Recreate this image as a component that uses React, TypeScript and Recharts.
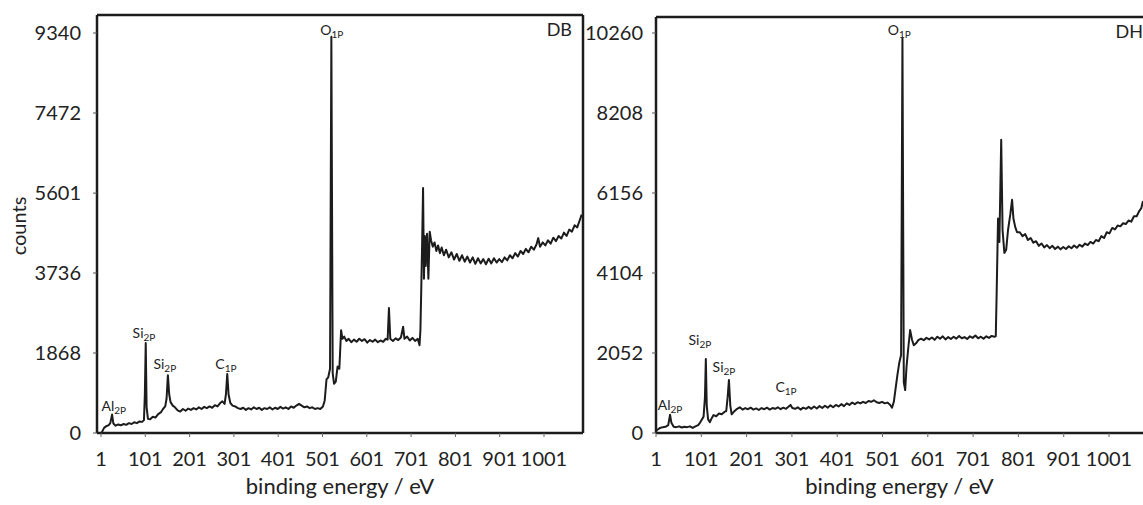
import React from 'react';
import { LineChart, Line, XAxis, YAxis, ReferenceDot, ReferenceLine } from 'recharts';

const energyTicks = [1, 101, 201, 301, 401, 501, 601, 701, 801, 901, 1001];
const dbCountTicks = [0, 1868, 3736, 5601, 7472, 9340];
const dhCountTicks = [0, 2052, 4104, 6156, 8208, 10260];

// [binding energy (eV), counts]
const dbSpectrum = [
  [3, 20], [8, 120], [13, 160], [18, 180], [22, 230], [26, 430], [29, 220], [34, 170], [40, 200],
  [46, 180], [52, 210], [58, 190], [64, 230], [70, 210], [76, 250], [82, 230], [88, 270], [94, 260],
  [98, 300], [100, 900], [102, 2100], [104, 600], [107, 330], [112, 320], [118, 380], [124, 360],
  [130, 440], [136, 480], [141, 560], [146, 620], [149, 800], [152, 1350], [155, 900], [158, 720],
  [163, 640], [168, 600], [174, 530], [180, 500], [186, 560], [192, 520], [198, 570], [204, 540],
  [210, 580], [216, 550], [222, 600], [228, 560], [234, 610], [240, 580], [246, 620], [252, 590],
  [258, 650], [264, 620], [270, 700], [275, 740], [280, 680], [283, 900], [286, 1380], [289, 900],
  [293, 700], [298, 640], [304, 620], [310, 580], [316, 560], [322, 590], [328, 540], [334, 580],
  [340, 550], [346, 600], [352, 560], [358, 590], [364, 540], [370, 580], [376, 560], [382, 600],
  [388, 550], [394, 590], [400, 560], [406, 610], [412, 570], [418, 600], [424, 560], [430, 620],
  [436, 590], [442, 640], [448, 680], [454, 640], [460, 600], [466, 620], [472, 580], [478, 600],
  [484, 560], [490, 580], [496, 560], [502, 620], [506, 760], [510, 1250], [514, 1300], [518, 1500],
  [521, 9250], [524, 1400], [527, 1150], [531, 1200], [535, 1550], [539, 1500], [543, 2400],
  [546, 2200], [550, 2250], [555, 2150], [560, 2200], [566, 2120], [572, 2180], [578, 2130],
  [584, 2200], [590, 2150], [596, 2190], [602, 2110], [608, 2170], [614, 2130], [620, 2180],
  [626, 2120], [632, 2160], [638, 2130], [644, 2200], [648, 2180], [651, 2920], [654, 2200],
  [660, 2150], [666, 2210], [672, 2170], [678, 2230], [683, 2480], [686, 2200], [692, 2250],
  [698, 2160], [704, 2220], [710, 2150], [716, 2200], [720, 2050], [722, 2400], [724, 3400],
  [726, 4500], [728, 5720], [730, 3600], [732, 4600], [734, 3900], [737, 4650], [740, 3600],
  [743, 4700], [746, 4500], [750, 4350], [754, 4450], [758, 4250], [762, 4380], [766, 4200],
  [770, 4330], [775, 4150], [780, 4280], [786, 4100], [792, 4220], [798, 4050], [804, 4180],
  [810, 4020], [816, 4150], [822, 4000], [828, 4120], [834, 3980], [840, 4100], [846, 3950],
  [852, 4080], [858, 3960], [864, 4060], [870, 3940], [876, 4070], [882, 3960], [888, 4080],
  [894, 3980], [900, 4060], [906, 3990], [912, 4100], [918, 4030], [924, 4150], [930, 4080],
  [936, 4200], [942, 4120], [948, 4250], [954, 4180], [960, 4300], [966, 4220], [972, 4350],
  [978, 4280], [984, 4400], [988, 4550], [992, 4350], [998, 4450], [1004, 4380], [1010, 4500],
  [1016, 4420], [1022, 4560], [1028, 4480], [1034, 4600], [1040, 4540], [1046, 4680], [1052, 4600],
  [1058, 4750], [1064, 4700], [1070, 4850], [1076, 4800], [1082, 4980], [1086, 5100],
];

// [binding energy (eV), counts]
const dhSpectrum = [
  [1, 60], [5, 90], [10, 130], [16, 150], [22, 160], [28, 200], [32, 470], [35, 260], [40, 160],
  [46, 150], [52, 170], [58, 140], [64, 160], [70, 150], [76, 170], [82, 130], [88, 170], [94, 200],
  [98, 260], [102, 340], [106, 420], [109, 900], [111, 1900], [113, 700], [116, 350], [120, 280],
  [124, 380], [128, 460], [134, 430], [140, 500], [146, 480], [152, 540], [156, 560], [159, 900],
  [162, 1360], [165, 700], [168, 480], [174, 560], [180, 620], [186, 660], [192, 600], [198, 640],
  [204, 610], [210, 650], [216, 600], [222, 630], [228, 590], [234, 640], [240, 610], [246, 650],
  [252, 600], [258, 640], [264, 620], [270, 660], [276, 610], [282, 650], [288, 620], [294, 680],
  [298, 720], [302, 640], [308, 620], [314, 660], [320, 600], [326, 650], [332, 620], [338, 670],
  [344, 620], [350, 680], [356, 630], [362, 690], [368, 640], [374, 700], [380, 650], [386, 710],
  [392, 660], [398, 720], [404, 680], [410, 740], [416, 690], [422, 760], [428, 720], [434, 780],
  [440, 740], [446, 790], [452, 760], [458, 800], [464, 770], [470, 820], [476, 800], [482, 840],
  [488, 790], [494, 770], [500, 800], [506, 760], [512, 780], [518, 720], [522, 650], [526, 800],
  [530, 1150], [534, 1500], [538, 1800], [542, 2000], [545, 10130], [548, 1300], [551, 1100],
  [554, 1700], [558, 2200], [562, 2640], [566, 2400], [570, 2250], [575, 2300], [580, 2380],
  [586, 2420], [592, 2380], [598, 2440], [604, 2400], [610, 2450], [616, 2390], [622, 2470],
  [628, 2420], [634, 2480], [640, 2400], [646, 2460], [652, 2410], [658, 2470], [664, 2420],
  [670, 2490], [676, 2430], [682, 2460], [688, 2410], [694, 2480], [700, 2440], [706, 2500],
  [712, 2430], [718, 2470], [724, 2420], [730, 2480], [736, 2440], [742, 2490], [748, 2470],
  [751, 2480], [753, 3600], [756, 5500], [759, 4900], [763, 7520], [766, 5200], [770, 4620],
  [774, 4700], [778, 5200], [783, 5600], [787, 5980], [790, 5500], [794, 5280], [798, 5150],
  [804, 5150], [810, 5050], [816, 5100], [822, 4950], [828, 5000], [834, 4880], [840, 4920],
  [846, 4800], [852, 4860], [858, 4760], [864, 4820], [870, 4740], [876, 4800], [882, 4720],
  [888, 4780], [894, 4710], [900, 4770], [906, 4720], [912, 4790], [918, 4740], [924, 4810],
  [930, 4750], [936, 4830], [942, 4780], [948, 4860], [954, 4820], [960, 4900], [966, 4860],
  [972, 4950], [978, 4920], [984, 5050], [990, 5000], [996, 5150], [1002, 5120], [1008, 5260],
  [1014, 5220], [1020, 5320], [1026, 5300], [1032, 5380], [1038, 5360], [1044, 5450], [1050, 5420],
  [1056, 5560], [1062, 5560], [1068, 5700], [1072, 5760], [1076, 5950],
];

// peak names, anchored where their text sits (energy, counts)
const dbPeaks = [
  { element: 'Al', level: '2P', energy: 30, counts: 514 },
  { element: 'Si', level: '2P', energy: 98, counts: 2218 },
  { element: 'Si', level: '2P', energy: 145, counts: 1494 },
  { element: 'C', level: '1P', energy: 283, counts: 1494 },
  { element: 'O', level: '1P', energy: 522, counts: 9293 },
];
const dhPeaks = [
  { element: 'Al', level: '2P', energy: 32, counts: 590 },
  { element: 'Si', level: '2P', energy: 98, counts: 2257 },
  { element: 'Si', level: '2P', energy: 151, counts: 1565 },
  { element: 'C', level: '1P', energy: 288, counts: 1052 },
  { element: 'O', level: '1P', energy: 538, counts: 10210 },
];

const font = 'Lato, "Open Sans", sans-serif';
const ink = '#1c1c1c';

const toRows = (pairs) => pairs.map(([energy, counts]) => ({ energy, counts }));

const PeakName = ({ cx, cy, element, level }) => (
  <text x={cx} y={cy} textAnchor="middle" fontFamily={font} fontSize={14} fill="#222">
    {element}
    <tspan fontSize={10} dy={3}>{level}</tspan>
  </text>
);

const Panel = ({ left, width, top, rows, peaks, yTicks, yMax, xDomain, yAxisWidth, yTickMargin, tag, tagInset, showCounts, closeRight }) => (
  <div style={{ position: 'absolute', left, top: 0 }}>
    <LineChart width={width} height={505} data={rows} margin={{ top, right: closeRight ? 7 : 0, bottom: 0, left: 0 }}>
      <XAxis
        dataKey="energy"
        type="number"
        domain={xDomain}
        ticks={energyTicks}
        interval={0}
        allowDataOverflow
        height={72}
        tickSize={4}
        tickMargin={15}
        axisLine={{ stroke: ink, strokeWidth: 2.5 }}
        tickLine={{ stroke: '#666' }}
        tick={{ fill: '#222', fontSize: 20, fontFamily: font }}
        label={{
          content: ({ viewBox }) => (
            <text x={viewBox.x + viewBox.width / 2} y={viewBox.y + 61} textAnchor="middle" fontFamily={font} fontSize={22} fill="#222">
              binding energy / eV
            </text>
          ),
        }}
      />
      <YAxis
        type="number"
        domain={[0, yMax]}
        ticks={yTicks}
        interval={0}
        allowDataOverflow
        width={yAxisWidth}
        tickSize={4}
        tickMargin={yTickMargin}
        axisLine={{ stroke: ink, strokeWidth: 2.5 }}
        tickLine={{ stroke: '#555' }}
        tick={{ fill: '#222', fontSize: 20, fontFamily: font }}
        label={
          showCounts
            ? {
                content: ({ viewBox }) => {
                  const x = viewBox.x + 18;
                  const y = viewBox.y + viewBox.height / 2 + 2;
                  return (
                    <text x={x} y={y} transform={`rotate(-90, ${x}, ${y})`} textAnchor="middle" dominantBaseline="central" fontFamily={font} fontSize={20} fill="#222">
                      counts
                    </text>
                  );
                },
              }
            : undefined
        }
      />
      {/* frame: top edge carries the sample tag, right edge only on the closed panel */}
      <ReferenceLine
        y={yMax}
        stroke={ink}
        strokeWidth={2.5}
        label={{
          content: ({ viewBox }) => (
            <text x={viewBox.x + viewBox.width - tagInset} y={viewBox.y + 21} textAnchor="end" fontFamily={font} fontSize={18} fill="#222">
              {tag}
            </text>
          ),
        }}
      />
      {closeRight && <ReferenceLine x={xDomain[1]} stroke={ink} strokeWidth={2.5} />}
      <Line
        type="linear"
        dataKey="counts"
        stroke={ink}
        strokeWidth={2}
        strokeLinejoin="round"
        dot={false}
        activeDot={false}
        isAnimationActive={false}
      />
      {peaks.map((p, i) => (
        <ReferenceDot
          key={i}
          x={p.energy}
          y={p.counts}
          r={0}
          shape={(props) => <PeakName cx={props.cx} cy={props.cy} element={p.element} level={p.level} />}
        />
      ))}
    </LineChart>
  </div>
);

const App = () => {
  return (
    <div style={{ position: 'absolute', left: 0, top: 0, width: 1143, height: 505, background: '#fff', overflow: 'hidden' }}>
      <Panel
        left={0}
        width={590}
        top={15}
        rows={toRows(dbSpectrum)}
        peaks={dbPeaks}
        yTicks={dbCountTicks}
        yMax={9760}
        xDomain={[-8, 1089]}
        yAxisWidth={97}
        yTickMargin={12}
        tag="DB"
        tagInset={11}
        showCounts
        closeRight
      />
      <Panel
        left={578}
        width={565}
        top={17}
        rows={toRows(dhSpectrum)}
        peaks={dhPeaks}
        yTicks={dhCountTicks}
        yMax={10670}
        xDomain={[1, 1076]}
        yAxisWidth={78}
        yTickMargin={9}
        tag="DH"
        tagInset={0}
        showCounts={false}
        closeRight={false}
      />
    </div>
  );
};

export default App;
